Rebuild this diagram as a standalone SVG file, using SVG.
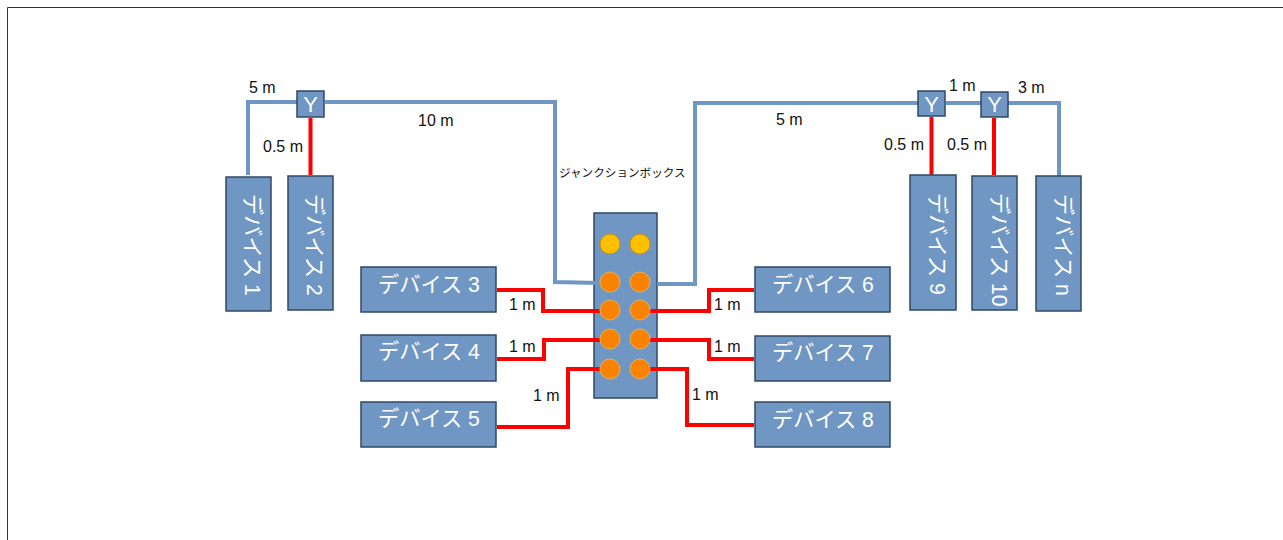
<svg xmlns="http://www.w3.org/2000/svg" width="1283" height="540" viewBox="0 0 1283 540">
<style>
text{font-family:"Liberation Sans","Noto Sans CJK JP",sans-serif}
.box{fill:#7096c3;stroke:#2f4865;stroke-width:1.5}
.dev{fill:#fff;font-size:21.2px}
.lab{fill:#111;font-size:16px}
.y{fill:#fff;font-size:22px;text-anchor:middle}
.blue{fill:none;stroke:#7096c3;stroke-width:4}
.red{fill:none;stroke:#f00;stroke-width:4}
.p1{fill:#ffc000;stroke:#c8920a;stroke-width:1}
.p2{fill:#f98200;stroke:#e2b45c;stroke-width:1}
</style>
<rect width="1283" height="540" fill="#fff"/>
<path d="M7.500 540V7.500H1283" fill="none" stroke="#333" stroke-width="1"/>
<g id="junction"><rect class="box" x="594" y="213" width="63" height="185"/></g>
<g id="connectors">
<path class="blue" d="M248 175V102H297"/>
<path class="blue" d="M325 102H555V282L600 283"/>
<path class="blue" d="M657 284H695V103H918"/>
<path class="blue" d="M946 103H981"/>
<path class="blue" d="M1008 103H1059V176"/>
<path class="red" d="M310.500 118V175"/>
<path class="red" d="M931.500 117V175"/>
<path class="red" d="M994 118V175"/>
<path class="red" d="M497 290H543V311H600"/>
<path class="red" d="M497 359H544V340H600"/>
<path class="red" d="M497 427H568V369H600"/>
<path class="red" d="M650 311H709V290H754"/>
<path class="red" d="M650 340H709V359H754"/>
<path class="red" d="M650 369H687V425H754"/>
</g>
<g id="ports">
<circle class="p1" cx="610" cy="244" r="10"/><circle class="p1" cx="640" cy="244" r="10"/>
<circle class="p2" cx="610" cy="282" r="10"/><circle class="p2" cx="640" cy="282" r="10"/>
<circle class="p2" cx="610" cy="310" r="10"/><circle class="p2" cx="640" cy="310" r="10"/>
<circle class="p2" cx="610" cy="339" r="10"/><circle class="p2" cx="640" cy="339" r="10"/>
<circle class="p2" cx="610" cy="369" r="10"/><circle class="p2" cx="640" cy="369" r="10"/>
</g>
<g id="device1"><rect class="box" x="226" y="177" width="45" height="134"/><text class="dev" transform="translate(245 194) rotate(90)">デバイス 1</text></g>
<g id="device2"><rect class="box" x="288" y="176" width="45" height="134"/><text class="dev" transform="translate(307 194) rotate(90)">デバイス 2</text></g>
<g id="y1"><rect class="box" x="297" y="91" width="27" height="26"/><text class="y" x="310.500" y="112">Y</text></g>
<g id="device3"><rect class="box" x="361" y="267" width="135" height="45"/><text class="dev" x="378" y="292">デバイス 3</text></g>
<g id="device4"><rect class="box" x="361" y="335" width="135" height="46"/><text class="dev" x="378" y="359">デバイス 4</text></g>
<g id="device5"><rect class="box" x="361" y="402" width="135" height="45"/><text class="dev" x="378" y="426">デバイス 5</text></g>
<g id="device6"><rect class="box" x="755" y="267" width="135" height="45"/><text class="dev" x="772" y="292">デバイス 6</text></g>
<g id="device7"><rect class="box" x="755" y="336" width="135" height="45"/><text class="dev" x="772" y="360">デバイス 7</text></g>
<g id="device8"><rect class="box" x="755" y="402" width="135" height="45"/><text class="dev" x="772" y="427">デバイス 8</text></g>
<g id="device9"><rect class="box" x="910" y="175" width="46" height="135"/><text class="dev" transform="translate(930 193) rotate(90)">デバイス 9</text></g>
<g id="device10"><rect class="box" x="972" y="176" width="45" height="134"/><text class="dev" transform="translate(992 193) rotate(90)">デバイス 10</text></g>
<g id="devicen"><rect class="box" x="1036" y="176" width="45" height="135"/><text class="dev" transform="translate(1056 194) rotate(90)">デバイス n</text></g>
<g id="y2"><rect class="box" x="918" y="91" width="27" height="25"/><text class="y" x="931.500" y="112">Y</text></g>
<g id="y3"><rect class="box" x="981" y="92" width="27" height="25"/><text class="y" x="994.500" y="112">Y</text></g>
<g id="labels">
<text class="lab" x="249" y="93">5 m</text>
<text class="lab" x="263" y="152">0.5 m</text>
<text class="lab" x="418" y="126">10 m</text>
<text class="lab" x="776" y="125">5 m</text>
<text class="lab" x="559" y="177" style="font-size:11.600px">ジャンクションボックス</text>
<text class="lab" x="884" y="150">0.5 m</text>
<text class="lab" x="947" y="150">0.5 m</text>
<text class="lab" x="949" y="91">1 m</text>
<text class="lab" x="1018" y="93">3 m</text>
<text class="lab" x="509" y="310">1 m</text>
<text class="lab" x="509" y="352">1 m</text>
<text class="lab" x="533" y="401">1 m</text>
<text class="lab" x="714" y="310">1 m</text>
<text class="lab" x="714" y="352">1 m</text>
<text class="lab" x="692" y="400">1 m</text>
</g>
</svg>
